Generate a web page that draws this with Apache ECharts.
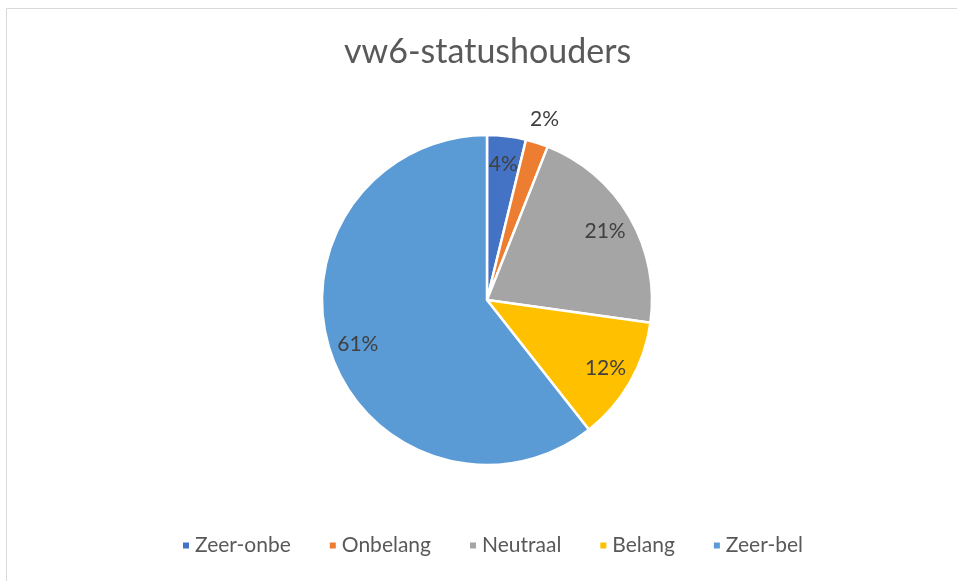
<!DOCTYPE html>
<html><head><meta charset="utf-8">
<script src="https://cdn.jsdelivr.net/npm/echarts@6/dist/echarts.min.js"></script>
<style>html,body{margin:0;padding:0;background:#fff}#c{width:957px;height:581px}</style>
</head><body><div id="c"></div>
<script>
const categories = ['Zeer-onbe', 'Onbelang', 'Neutraal', 'Belang', 'Zeer-bel'];
const values = [3.8, 2.2, 21.2, 12.2, 60.6];
const colors = ['#4472C4', '#ED7D31', '#A5A5A5', '#FFC000', '#5B9BD5'];
const outsideLabelIdx = [1];

const FONT = 'Lato, "Open Sans", sans-serif';
const chart = echarts.init(document.getElementById('c'), null, {renderer: 'canvas'});
const center = [487, 300];
const R = 165;

const baseData = categories.map((n, i) => ({name: n, value: values[i], itemStyle: {color: colors[i]}}));
const labelStyle = {color: '#404040', fontSize: 21, fontFamily: FONT, formatter: p => Math.round(p.percent) + '%'};

chart.setOption({
  animation: false,
  title: {text: 'vw6-statushouders', left: 339, top: 30,
    textStyle: {color: '#595959', fontSize: 34, fontWeight: 'normal', fontFamily: FONT}},
  legend: {bottom: 20, left: 176, icon: 'rect', itemWidth: 8, itemHeight: 8, itemGap: 37,
    textStyle: {color: '#595959', fontSize: 21, fontFamily: FONT}, data: categories},
  graphic: [{type: 'rect', shape: {x: 6.5, y: 8.5, width: 1000, height: 1000},
    style: {fill: 'none', stroke: '#D9D9D9', lineWidth: 1}, silent: true}],
  series: [
    {type: 'pie', center: center, radius: [0, R], startAngle: 90, clockwise: true,
     label: {show: false}, labelLine: {show: false},
     itemStyle: {borderColor: '#fff', borderWidth: 2.5},
     emphasis: {disabled: true}, data: baseData},
    {type: 'pie', center: center, radius: [R * 0.62, R], startAngle: 90, clockwise: true,
     silent: true, legendHoverLink: false,
     itemStyle: {color: 'rgba(0,0,0,0)'}, labelLine: {show: false},
     label: Object.assign({show: true, position: 'inside'}, labelStyle),
     emphasis: {disabled: true},
     data: categories.map((n, i) => ({name: n + ' ', value: values[i],
       label: {show: outsideLabelIdx.indexOf(i) < 0}}))},
    {type: 'pie', center: center, radius: [R + 10, R + 34], startAngle: 90, clockwise: true,
     silent: true, legendHoverLink: false,
     itemStyle: {color: 'rgba(0,0,0,0)'}, labelLine: {show: false},
     label: Object.assign({show: true, position: 'inside'}, labelStyle),
     emphasis: {disabled: true},
     data: categories.map((n, i) => ({name: n + '  ', value: values[i],
       label: {show: outsideLabelIdx.indexOf(i) >= 0}}))}
  ]
});
</script></body></html>
